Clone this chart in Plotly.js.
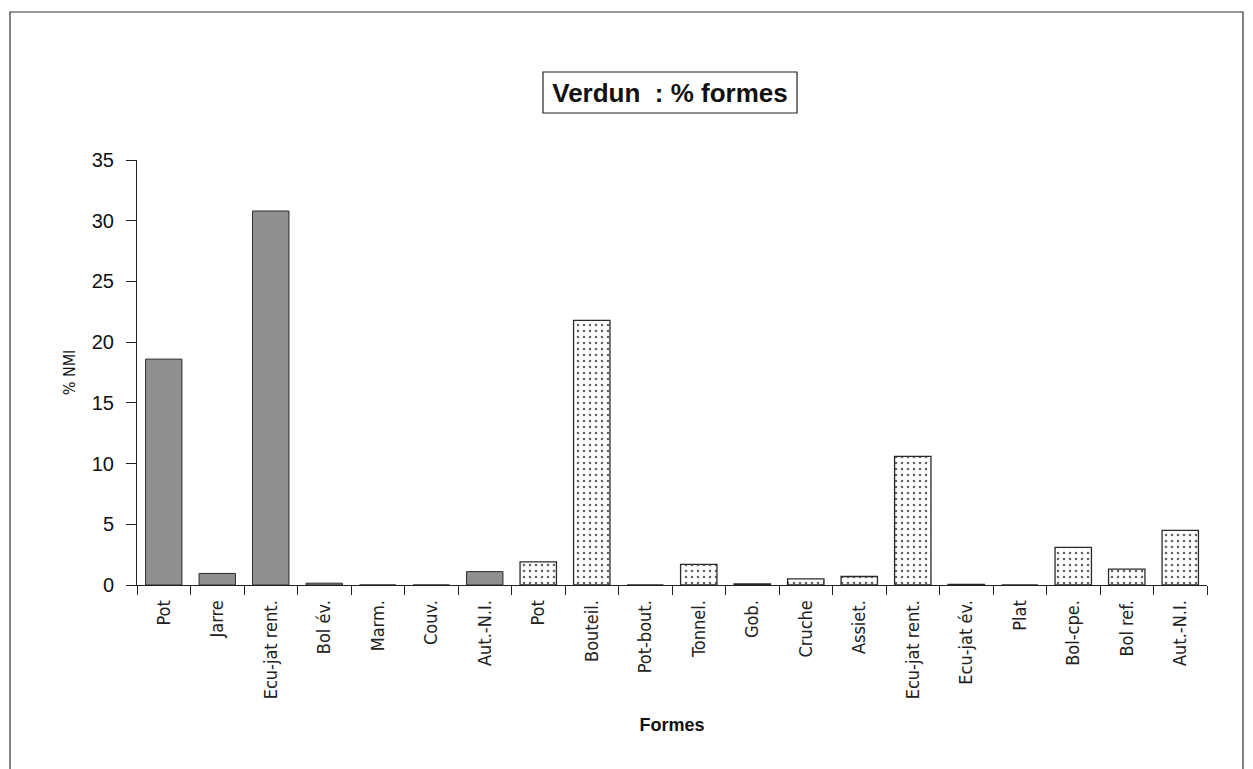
<!DOCTYPE html>
<html>
<head>
<meta charset="utf-8">
<script src="https://cdn.plot.ly/plotly-3.0.1.min.js"></script>
<style>
  html, body { margin: 0; padding: 0; background: #fff; }
  #chart { width: 1253px; height: 769px; }
</style>
</head>
<body>
<div id="chart"></div>
<script>
// Category labels (tick labels), in order along the x axis
const formes = ["Pot", "Jarre", "Ecu-jat rent.", "Bol év.", "Marm.", "Couv.", "Aut.-N.I.",
                "Pot", "Bouteil.", "Pot-bout.", "Tonnel.", "Gob.", "Cruche", "Assiet.",
                "Ecu-jat rent.", "Ecu-jat év.", "Plat", "Bol-cpe.", "Bol ref.", "Aut.-N.I."];
// First group (grey bars): first 7 categories
const valeursGroupe1 = [18.6, 0.95, 30.8, 0.15, 0, 0, 1.1];
// Second group (dotted bars): remaining 13 categories
const valeursGroupe2 = [1.9, 21.8, 0, 1.7, 0.1, 0.5, 0.7, 10.6, 0.05, 0, 3.1, 1.3, 4.5];
const yTicks = [0, 5, 10, 15, 20, 25, 30, 35];

// unique category keys so duplicated labels get their own slot
const keys = formes.map((f, i) => "c" + i);
const n1 = valeursGroupe1.length;

const traceA = {
  type: "bar",
  x: keys.slice(0, n1),
  y: valeursGroupe1,
  marker: { color: "#8f8f8f", line: { color: "#2a2a2a", width: 1 } },
  hoverinfo: "y",
  showlegend: false
};
const traceB = {
  type: "bar",
  x: keys.slice(n1),
  y: valeursGroupe2,
  marker: {
    color: "#ffffff",
    line: { color: "#2a2a2a", width: 1.3 },
    pattern: { shape: ".", fgcolor: "#666", bgcolor: "#ffffff", size: 6, solidity: 0.15 }
  },
  hoverinfo: "y",
  showlegend: false
};

const narrow = "'Liberation Sans Narrow', 'DejaVu Sans Condensed', 'Arial Narrow', sans-serif";

const layout = {
  width: 1253,
  height: 769,
  paper_bgcolor: "#ffffff",
  plot_bgcolor: "#ffffff",
  margin: { l: 137, r: 46, t: 160, b: 184 },
  barmode: "overlay",
  bargap: 0.32,
  title: {
    text: "<b>Verdun  : % formes</b>",
    font: { family: "'Liberation Sans', Arial, sans-serif", size: 26, color: "#111" },
    x: 0.5347, xanchor: "center",
    y: 1 - 93 / 769, yanchor: "middle", yref: "container"
  },
  xaxis: {
    type: "category",
    categoryorder: "array",
    categoryarray: keys,
    tickvals: keys,
    ticktext: formes,
    tickangle: -90,
    tickson: "boundaries",
    ticks: "outside",
    ticklen: 9,
    tickcolor: "#222",
    tickwidth: 1,
    showline: true,
    linecolor: "#222",
    linewidth: 1,
    showgrid: false,
    zeroline: false,
    ticklabelstandoff: 7,
    tickfont: { family: narrow, size: 18, color: "#222" },
    title: {
      text: "<b>Formes</b>",
      font: { family: "'Liberation Sans', Arial, sans-serif", size: 18, color: "#111" },
      standoff: 20
    },
    fixedrange: true
  },
  yaxis: {
    range: [0, 35],
    tickvals: yTicks,
    ticks: "outside",
    ticklen: 10,
    tickcolor: "#222",
    showline: true,
    linecolor: "#222",
    linewidth: 1,
    showgrid: false,
    zeroline: false,
    ticklabelstandoff: 8,
    tickfont: { family: "'Liberation Sans', Arial, sans-serif", size: 20, color: "#111" },
    title: {
      text: "% NMI",
      font: { family: narrow, size: 16, color: "#111" },
      standoff: 12
    },
    fixedrange: true
  },
  shapes: [
    // box around the title
    { type: "rect", xref: "paper", yref: "paper",
      x0: (543 - 137) / 1070, x1: (797 - 137) / 1070,
      y0: (585 - 113) / 425, y1: (585 - 72) / 425,
      line: { color: "#222", width: 1.2 }, fillcolor: "rgba(0,0,0,0)" },
    // outer frame of the chart
    { type: "rect", xref: "paper", yref: "paper",
      x0: (10 - 137) / 1070, x1: (1243 - 137) / 1070,
      y0: (585 - 790) / 425, y1: (585 - 12) / 425,
      line: { color: "#333", width: 1.2 }, fillcolor: "rgba(0,0,0,0)" }
  ]
};

Plotly.newPlot("chart", [traceA, traceB], layout, { staticPlot: true, displayModeBar: false });
</script>
</body>
</html>
